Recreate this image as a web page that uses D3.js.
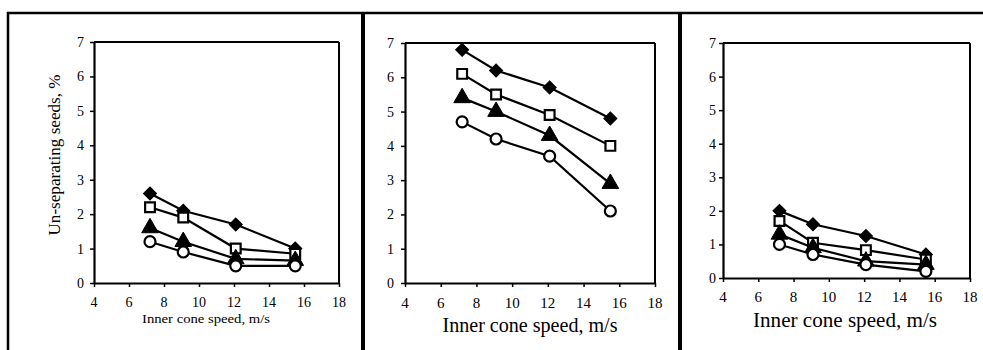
<!DOCTYPE html>
<html>
<head>
<meta charset="utf-8">
<script src="https://cdn.jsdelivr.net/npm/d3@7"></script>
<style>
  html, body { margin: 0; padding: 0; background: #fff; }
  svg { display: block; }
  text { font-family: "Liberation Serif", "Times New Roman", serif; fill: #000; }
</style>
</head>
<body>
<svg id="chart" width="983" height="350"></svg>
<script>
// ---- data ----
const speeds = [7.2, 9.1, 12.1, 15.5];
const xTicks = [4, 6, 8, 10, 12, 14, 16, 18];
const yTicks = [0, 1, 2, 3, 4, 5, 6, 7];
const xTitle = "Inner cone speed, m/s";
const yTitle = "Un-separating seeds, %";
const seriesNames = ["diamond", "square", "triangle", "circle"];

const panel1Diamond  = [2.6, 2.1, 1.7, 1.0];
const panel1Square   = [2.2, 1.9, 1.0, 0.85];
const panel1Triangle = [1.6, 1.2, 0.7, 0.65];
const panel1Circle   = [1.2, 0.9, 0.5, 0.5];

const panel2Diamond  = [6.8, 6.2, 5.7, 4.8];
const panel2Square   = [6.1, 5.5, 4.9, 4.0];
const panel2Triangle = [5.4, 5.0, 4.3, 2.9];
const panel2Circle   = [4.7, 4.2, 3.7, 2.1];

const panel3Diamond  = [2.0, 1.6, 1.25, 0.7];
const panel3Square   = [1.7, 1.05, 0.83, 0.55];
const panel3Triangle = [1.3, 0.9, 0.5, 0.4];
const panel3Circle   = [1.0, 0.7, 0.4, 0.2];

const panelData = [
  [panel1Diamond, panel1Square, panel1Triangle, panel1Circle],
  [panel2Diamond, panel2Square, panel2Triangle, panel2Circle],
  [panel3Diamond, panel3Square, panel3Triangle, panel3Circle]
];

// ---- layout ----
const layouts = [
  { x0: 94,  x1: 339, y0: 283, y1: 42, tickFont: 14, yTickFont: 14, yLabelX: 84, xLabelY: 307,
    titleY: 323, titleSize: 13, titleLen: 128, titleX: 206, yTitleOn: true },
  { x0: 405, x1: 655, y0: 283, y1: 43, tickFont: 15, yTickFont: 14, yLabelX: 394, xLabelY: 308,
    titleY: 332, titleSize: 21, titleLen: 175, titleX: 530, yTitleOn: false },
  { x0: 723, x1: 970, y0: 278, y1: 43, tickFont: 15, yTickFont: 14, yLabelX: 716, xLabelY: 302,
    titleY: 327, titleSize: 21, titleLen: 184, titleX: 845, yTitleOn: false }
];

const svg = d3.select("#chart");

// outer frame and dividers
const frame = svg.append("g").attr("stroke", "#000").attr("fill", "none");
frame.append("line").attr("x1", 7).attr("x2", 983).attr("y1", 13).attr("y2", 13).attr("stroke-width", 2.5);
frame.append("line").attr("x1", 8).attr("x2", 8).attr("y1", 12).attr("y2", 350).attr("stroke-width", 2.5);
frame.append("line").attr("x1", 363).attr("x2", 363).attr("y1", 12).attr("y2", 350).attr("stroke-width", 4);
frame.append("line").attr("x1", 680).attr("x2", 680).attr("y1", 12).attr("y2", 350).attr("stroke-width", 4);

const symbolTypes = {
  diamond: d3.symbolSquare,
  square: d3.symbolSquare,
  triangle: d3.symbolTriangle,
  circle: d3.symbolCircle
};
const symbolSizes = { diamond: 85, square: 95, triangle: 120, circle: 95 };
const symbolRot = { diamond: 45, square: 0, triangle: 0, circle: 0 };
const filled = { diamond: true, square: false, triangle: true, circle: false };

layouts.forEach((L, pi) => {
  const x = d3.scaleLinear().domain([4, 18]).range([L.x0, L.x1]);
  const y = d3.scaleLinear().domain([0, 7]).range([L.y0, L.y1]);
  const g = svg.append("g");

  // plot frame (top and right)
  g.append("line").attr("x1", L.x0).attr("x2", L.x1).attr("y1", L.y1).attr("y2", L.y1)
    .attr("stroke", "#000").attr("stroke-width", 2);
  g.append("line").attr("x1", L.x1).attr("x2", L.x1).attr("y1", L.y1).attr("y2", L.y0)
    .attr("stroke", "#000").attr("stroke-width", 2);

  // x axis (lines from d3 axis, labels drawn separately)
  const xa = g.append("g").attr("transform", `translate(0,${L.y0})`)
    .call(d3.axisBottom(x).tickValues(xTicks).tickSize(4).tickSizeOuter(0).tickFormat(""));
  xa.select(".domain").attr("stroke-width", 2.2);
  xa.selectAll(".tick line").attr("stroke-width", 1.5);
  xa.selectAll(".tick text").remove();

  g.selectAll(null).data(xTicks).enter().append("text")
    .attr("x", d => x(d)).attr("y", L.xLabelY)
    .attr("text-anchor", "middle")
    .style("font-size", L.tickFont + "px")
    .text(d => d3.format("d")(d));

  // y axis
  const ya = g.append("g").attr("transform", `translate(${L.x0},0)`)
    .call(d3.axisLeft(y).tickValues(yTicks).tickSize(4).tickSizeOuter(0).tickFormat(""));
  ya.select(".domain").attr("stroke-width", 2.2);
  ya.selectAll(".tick line").attr("stroke-width", 1.5);
  ya.selectAll(".tick text").remove();

  g.selectAll(null).data(yTicks).enter().append("text")
    .attr("x", L.yLabelX).attr("y", d => y(d) + 5)
    .attr("text-anchor", "end")
    .style("font-size", L.yTickFont + "px")
    .text(d => d3.format("d")(d));

  // x title
  g.append("text").attr("x", L.titleX).attr("y", L.titleY)
    .attr("text-anchor", "middle").style("font-size", L.titleSize + "px")
    .attr("textLength", L.titleLen).attr("lengthAdjust", "spacingAndGlyphs")
    .text(xTitle);

  if (L.yTitleOn) {
    g.append("text")
      .attr("transform", `translate(60,155) rotate(-90)`)
      .attr("text-anchor", "middle").style("font-size", "17px")
      .attr("textLength", 161).attr("lengthAdjust", "spacingAndGlyphs")
      .text(yTitle);
  }

  const line = d3.line().x((d, i) => x(speeds[i])).y(d => y(d));

  panelData[pi].forEach((vals) => {
    g.append("path").datum(vals).attr("d", line)
      .attr("fill", "none").attr("stroke", "#000").attr("stroke-width", 2.2);
  });

  panelData[pi].forEach((vals, si) => {
    const name = seriesNames[si];
    const sym = d3.symbol().type(symbolTypes[name]).size(symbolSizes[name]);
    g.selectAll(null).data(vals).enter().append("path")
      .attr("d", sym)
      .attr("transform", (d, i) => `translate(${x(speeds[i])},${y(d)}) rotate(${symbolRot[name]})`)
      .attr("fill", filled[name] ? "#000" : "#fff")
      .attr("stroke", "#000")
      .attr("stroke-width", filled[name] ? 1 : 2.2);
  });
});
</script>
</body>
</html>
